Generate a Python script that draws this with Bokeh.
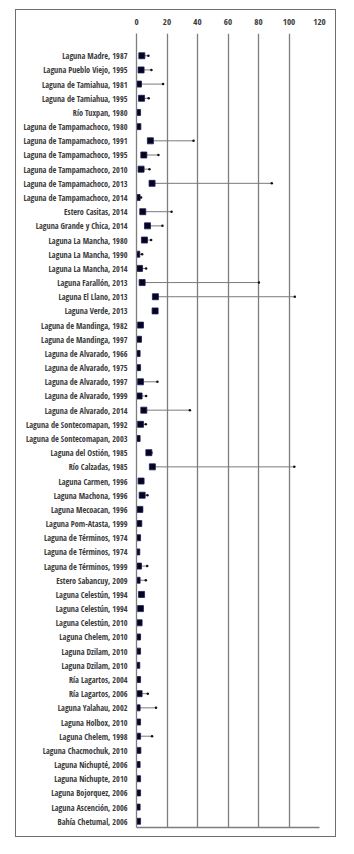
from bokeh.plotting import figure
from bokeh.models import Range1d, FixedTicker, LinearAxis, ColumnDataSource
from bokeh.embed import file_html
from bokeh.resources import INLINE

sites = [
    "Laguna Madre, 1987", "Laguna Pueblo Viejo, 1995", "Laguna de Tamiahua, 1981",
    "Laguna de Tamiahua, 1995", "Río Tuxpan, 1980", "Laguna de Tampamachoco, 1980",
    "Laguna de Tampamachoco, 1991", "Laguna de Tampamachoco, 1995",
    "Laguna de Tampamachoco, 2010", "Laguna de Tampamachoco, 2013",
    "Laguna de Tampamachoco, 2014", "Estero Casitas, 2014", "Laguna Grande y Chica, 2014",
    "Laguna La Mancha, 1980", "Laguna La Mancha, 1990", "Laguna La Mancha, 2014",
    "Laguna Farallón, 2013", "Laguna El Llano, 2013", "Laguna Verde, 2013",
    "Laguna de Mandinga, 1982", "Laguna de Mandinga, 1997", "Laguna de Alvarado, 1966",
    "Laguna de Alvarado, 1975", "Laguna de Alvarado, 1997", "Laguna de Alvarado, 1999",
    "Laguna de Alvarado, 2014", "Laguna de Sontecomapan, 1992", "Laguna de Sontecomapan, 2003",
    "Laguna del Ostión, 1985", "Río Calzadas, 1985", "Laguna Carmen, 1996",
    "Laguna Machona, 1996", "Laguna Mecoacan, 1996", "Laguna Pom-Atasta, 1999",
    "Laguna de Términos, 1974", "Laguna de Términos, 1974", "Laguna de Términos, 1999",
    "Estero Sabancuy, 2009", "Laguna Celestún, 1994", "Laguna Celestún, 1994",
    "Laguna Celestún, 2010", "Laguna Chelem, 2010", "Laguna Dzilam, 2010",
    "Laguna Dzilam, 2010", "Ría Lagartos, 2004", "Ría Lagartos, 2006",
    "Laguna Yalahau, 2002", "Laguna Holbox, 2010", "Laguna Chelem, 1998",
    "Laguna Chacmochuk, 2010", "Laguna Nichupté, 2006", "Laguna Nichupte, 2010",
    "Laguna Bojorquez, 2006", "Laguna Ascención, 2006", "Bahía Chetumal, 2006",
]

means = [
    3.5, 3.0, 1.3, 3.3, 0.7, 0.9, 9.1, 4.8, 3.0, 10.2,
    0.4, 4.1, 7.2, 5.2, 0.2, 2.0, 3.7, 12.4, 12.2, 2.6,
    1.3, 0.4, 0.7, 2.6, 1.7, 4.8, 2.6, 0.4, 8.1, 10.4,
    3.0, 3.7, 2.2, 1.5, 0.7, 0.2, 1.3, 0.4, 3.3, 2.6,
    1.7, 0.7, 0.7, 0.2, 0.7, 1.7, 0.4, 0.7, 0.7, 0.9,
    0.4, 0.7, 0.7, 0.4, 0.7,
]

upper = [
    7.8, 9.8, 17.4, 8.0, 0.7, 0.9, 37.4, 14.4, 8.5, 88.7,
    3.0, 23.0, 17.0, 9.6, 3.7, 6.3, 80.3, 103.8, 12.2, 2.6,
    1.3, 0.4, 0.7, 13.7, 6.3, 35.0, 6.1, 0.4, 9.8, 103.5,
    4.2, 7.2, 3.4, 2.4, 0.7, 0.2, 7.0, 6.1, 3.3, 2.6,
    1.7, 1.9, 0.7, 0.2, 0.7, 7.4, 12.8, 0.7, 10.2, 0.9,
    0.4, 0.7, 0.7, 0.4, 0.7,
]

x_ticks = [0, 20, 40, 60, 80, 100, 120]

FONT = "Open Sans Condensed"
LINE = "#7d7d7d"
idx = list(range(len(sites)))
Y_BOTTOM, Y_TOP = 54.44, -1.57

p = figure(width=321, height=828, output_backend="svg", toolbar_location=None,
           x_range=Range1d(0, 120), y_range=Range1d(Y_BOTTOM, Y_TOP),
           x_axis_location="above",
           min_border_left=120, min_border_right=18, min_border_top=23, min_border_bottom=11,
           margin=(9, 0, 0, 15),
           styles={"border": "1px solid #6e6e6e"})
p.outline_line_color = None
p.background_fill_color = None
p.border_fill_color = None

xa = p.xaxis[0]
xa.ticker = FixedTicker(ticks=x_ticks)
xa.axis_line_color = None
xa.major_tick_line_color = None
xa.minor_tick_line_color = None
xa.major_tick_out = 0
xa.major_tick_in = 0
xa.major_label_standoff = 9
xa.major_label_text_font = FONT
xa.major_label_text_font_size = "9px"
xa.major_label_text_color = "#3a3a3a"

ya = p.yaxis[0]
ya.ticker = FixedTicker(ticks=idx)
ya.major_label_overrides = {i: s for i, s in enumerate(sites)}
ya.axis_line_color = LINE
ya.axis_line_width = 1.3
ya.major_tick_line_color = None
ya.minor_tick_line_color = None
ya.major_tick_out = 0
ya.major_tick_in = 0
ya.major_label_standoff = 9
ya.major_label_text_font = FONT
ya.major_label_text_font_size = "8.2px"
ya.major_label_text_color = "#3a3a3a"

bottom = LinearAxis(ticker=FixedTicker(ticks=[]), axis_line_color=LINE, axis_line_width=1.3,
                    major_tick_line_color=None, minor_tick_line_color=None,
                    major_label_text_font_size="0px")
p.add_layout(bottom, "below")

p.xgrid.ticker = FixedTicker(ticks=x_ticks)
p.xgrid.grid_line_color = LINE
p.xgrid.grid_line_width = 1.3
p.ygrid.grid_line_color = None

wi = [i for i in idx if upper[i] > means[i]]
src_w = ColumnDataSource(dict(y=[i for i in wi], x0=[means[i] for i in wi], x1=[upper[i] for i in wi]))
p.segment(x0="x0", y0="y", x1="x1", y1="y", source=src_w, line_color="#7a7a7a", line_width=1)
p.scatter(x="x1", y="y", source=src_w, marker="circle", size=2.5, fill_color="#111111", line_color=None)

src = ColumnDataSource(dict(y=idx, x=means))
p.scatter(x="x", y="y", source=src, marker="square", size=6, fill_color="#05051e", line_color="#1b1b5c", line_width=0.8)

open("out.html", "w").write(file_html(p, INLINE))
